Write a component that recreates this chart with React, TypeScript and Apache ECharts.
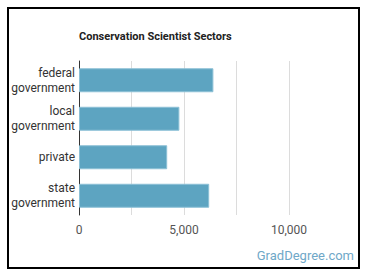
import React, { useEffect, useRef } from "react";
import * as echarts from "echarts";

const categories = ["federal\ngovernment", "local\ngovernment", "private", "state\ngovernment"];
const values = [6400, 4780, 4200, 6200];
const xTicks = [0, 5000, 10000];

export default function App() {
  const ref = useRef<HTMLDivElement>(null);
  useEffect(() => {
    if (!ref.current) return;
    const chart = echarts.init(ref.current, null, { renderer: "svg" });
    chart.setOption({
      animation: false,
      backgroundColor: "#fff",
      textStyle: { fontFamily: "Roboto" },
      title: {
        text: "Conservation Scientist Sectors",
        left: 79,
        top: 31,
        padding: 0,
        textStyle: { fontSize: 11, fontWeight: "bold", color: "#222", fontFamily: "Roboto" },
      },
      grid: { left: 79, top: 61, width: 262.5, height: 154, containLabel: false },
      xAxis: {
        type: "value",
        min: 0,
        max: 12500,
        interval: 2500,
        axisLine: { show: false },
        axisTick: { show: false },
        splitLine: { show: true, showMinLine: false, showMaxLine: false, lineStyle: { color: "#dcdcdc", width: 1 } },
        axisLabel: {
          color: "#555",
          fontSize: 12,
          margin: 9,
          fontFamily: "Roboto",
          formatter: (v: number) => (xTicks.includes(v) ? v.toLocaleString("en-US") : ""),
        },
      },
      yAxis: {
        type: "category",
        data: categories,
        inverse: true,
        axisLine: { show: true, lineStyle: { color: "#333", width: 1 } },
        axisTick: { show: false },
        axisLabel: { color: "#333", fontSize: 12, lineHeight: 15, margin: 4, fontFamily: "Roboto", align: "right" },
      },
      series: [
        {
          type: "bar",
          data: values,
          barWidth: 24,
          itemStyle: { color: "#5da4c1", borderColor: "#8cc0d6", borderWidth: 1 },
        },
      ],
      graphic: [
        {
          type: "rect",
          shape: { x: 8, y: 8, width: 351, height: 260 },
          style: { fill: "none", stroke: "#000", lineWidth: 2 },
          z: 100,
        },
        {
          type: "text",
          right: 16,
          top: 249,
          style: { text: "GradDegree.com", fill: "#6fa8c8", fontSize: 13, fontFamily: "Roboto" },
        },
      ],
    });
    return () => chart.dispose();
  }, []);
  return <div ref={ref} style={{ position: "absolute", left: 0, top: 0, width: 370, height: 278 }} />;
}
